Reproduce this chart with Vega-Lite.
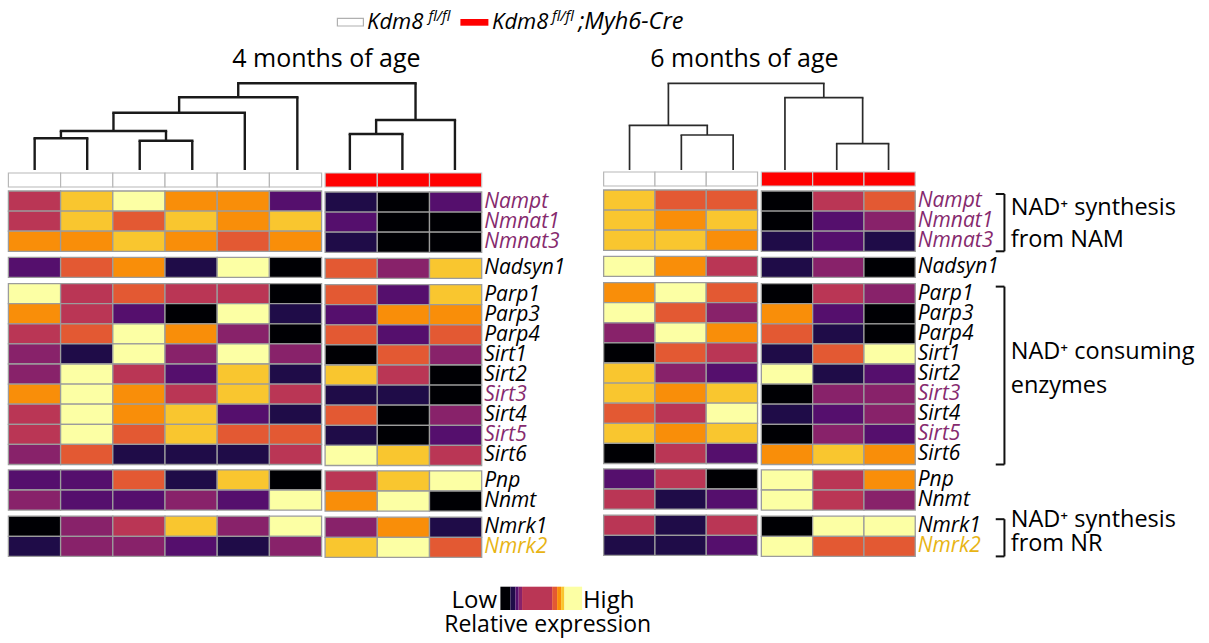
{
"$schema":"https://vega.github.io/schema/vega-lite/v6.json",
"padding":{"left":7.4,"top":0,"right":4,"bottom":0},
"config":{"view":{"stroke":null},"font":"Open Sans"},
"datasets":{
"heat":[
{"age":"4","geno":"fl","s":"L1","grp":"g1","gene":"Nampt","v":4},{"age":"4","geno":"fl","s":"L2","grp":"g1","gene":"Nampt","v":7},{"age":"4","geno":"fl","s":"L3","grp":"g1","gene":"Nampt","v":8},{"age":"4","geno":"fl","s":"L4","grp":"g1","gene":"Nampt","v":6},{"age":"4","geno":"fl","s":"L5","grp":"g1","gene":"Nampt","v":6},{"age":"4","geno":"fl","s":"L6","grp":"g1","gene":"Nampt","v":2},{"age":"4","geno":"cre","s":"L7","grp":"g1","gene":"Nampt","v":1},{"age":"4","geno":"cre","s":"L8","grp":"g1","gene":"Nampt","v":0},{"age":"4","geno":"cre","s":"L9","grp":"g1","gene":"Nampt","v":2},
{"age":"4","geno":"fl","s":"L1","grp":"g1","gene":"Nmnat1","v":4},{"age":"4","geno":"fl","s":"L2","grp":"g1","gene":"Nmnat1","v":7},{"age":"4","geno":"fl","s":"L3","grp":"g1","gene":"Nmnat1","v":5},{"age":"4","geno":"fl","s":"L4","grp":"g1","gene":"Nmnat1","v":7},{"age":"4","geno":"fl","s":"L5","grp":"g1","gene":"Nmnat1","v":6},{"age":"4","geno":"fl","s":"L6","grp":"g1","gene":"Nmnat1","v":7},{"age":"4","geno":"cre","s":"L7","grp":"g1","gene":"Nmnat1","v":2},{"age":"4","geno":"cre","s":"L8","grp":"g1","gene":"Nmnat1","v":0},{"age":"4","geno":"cre","s":"L9","grp":"g1","gene":"Nmnat1","v":0},
{"age":"4","geno":"fl","s":"L1","grp":"g1","gene":"Nmnat3","v":6},{"age":"4","geno":"fl","s":"L2","grp":"g1","gene":"Nmnat3","v":6},{"age":"4","geno":"fl","s":"L3","grp":"g1","gene":"Nmnat3","v":7},{"age":"4","geno":"fl","s":"L4","grp":"g1","gene":"Nmnat3","v":6},{"age":"4","geno":"fl","s":"L5","grp":"g1","gene":"Nmnat3","v":5},{"age":"4","geno":"fl","s":"L6","grp":"g1","gene":"Nmnat3","v":6},{"age":"4","geno":"cre","s":"L7","grp":"g1","gene":"Nmnat3","v":1},{"age":"4","geno":"cre","s":"L8","grp":"g1","gene":"Nmnat3","v":0},{"age":"4","geno":"cre","s":"L9","grp":"g1","gene":"Nmnat3","v":0},
{"age":"4","geno":"fl","s":"L1","grp":"g2","gene":"Nadsyn1","v":2},{"age":"4","geno":"fl","s":"L2","grp":"g2","gene":"Nadsyn1","v":5},{"age":"4","geno":"fl","s":"L3","grp":"g2","gene":"Nadsyn1","v":6},{"age":"4","geno":"fl","s":"L4","grp":"g2","gene":"Nadsyn1","v":1},{"age":"4","geno":"fl","s":"L5","grp":"g2","gene":"Nadsyn1","v":8},{"age":"4","geno":"fl","s":"L6","grp":"g2","gene":"Nadsyn1","v":0},{"age":"4","geno":"cre","s":"L7","grp":"g2","gene":"Nadsyn1","v":5},{"age":"4","geno":"cre","s":"L8","grp":"g2","gene":"Nadsyn1","v":3},{"age":"4","geno":"cre","s":"L9","grp":"g2","gene":"Nadsyn1","v":7},
{"age":"4","geno":"fl","s":"L1","grp":"g3","gene":"Parp1","v":8},{"age":"4","geno":"fl","s":"L2","grp":"g3","gene":"Parp1","v":4},{"age":"4","geno":"fl","s":"L3","grp":"g3","gene":"Parp1","v":5},{"age":"4","geno":"fl","s":"L4","grp":"g3","gene":"Parp1","v":4},{"age":"4","geno":"fl","s":"L5","grp":"g3","gene":"Parp1","v":4},{"age":"4","geno":"fl","s":"L6","grp":"g3","gene":"Parp1","v":0},{"age":"4","geno":"cre","s":"L7","grp":"g3","gene":"Parp1","v":5},{"age":"4","geno":"cre","s":"L8","grp":"g3","gene":"Parp1","v":2},{"age":"4","geno":"cre","s":"L9","grp":"g3","gene":"Parp1","v":7},
{"age":"4","geno":"fl","s":"L1","grp":"g3","gene":"Parp3","v":6},{"age":"4","geno":"fl","s":"L2","grp":"g3","gene":"Parp3","v":4},{"age":"4","geno":"fl","s":"L3","grp":"g3","gene":"Parp3","v":2},{"age":"4","geno":"fl","s":"L4","grp":"g3","gene":"Parp3","v":0},{"age":"4","geno":"fl","s":"L5","grp":"g3","gene":"Parp3","v":8},{"age":"4","geno":"fl","s":"L6","grp":"g3","gene":"Parp3","v":1},{"age":"4","geno":"cre","s":"L7","grp":"g3","gene":"Parp3","v":2},{"age":"4","geno":"cre","s":"L8","grp":"g3","gene":"Parp3","v":6},{"age":"4","geno":"cre","s":"L9","grp":"g3","gene":"Parp3","v":6},
{"age":"4","geno":"fl","s":"L1","grp":"g3","gene":"Parp4","v":4},{"age":"4","geno":"fl","s":"L2","grp":"g3","gene":"Parp4","v":5},{"age":"4","geno":"fl","s":"L3","grp":"g3","gene":"Parp4","v":8},{"age":"4","geno":"fl","s":"L4","grp":"g3","gene":"Parp4","v":6},{"age":"4","geno":"fl","s":"L5","grp":"g3","gene":"Parp4","v":3},{"age":"4","geno":"fl","s":"L6","grp":"g3","gene":"Parp4","v":0},{"age":"4","geno":"cre","s":"L7","grp":"g3","gene":"Parp4","v":5},{"age":"4","geno":"cre","s":"L8","grp":"g3","gene":"Parp4","v":2},{"age":"4","geno":"cre","s":"L9","grp":"g3","gene":"Parp4","v":5},
{"age":"4","geno":"fl","s":"L1","grp":"g3","gene":"Sirt1","v":3},{"age":"4","geno":"fl","s":"L2","grp":"g3","gene":"Sirt1","v":1},{"age":"4","geno":"fl","s":"L3","grp":"g3","gene":"Sirt1","v":8},{"age":"4","geno":"fl","s":"L4","grp":"g3","gene":"Sirt1","v":3},{"age":"4","geno":"fl","s":"L5","grp":"g3","gene":"Sirt1","v":8},{"age":"4","geno":"fl","s":"L6","grp":"g3","gene":"Sirt1","v":3},{"age":"4","geno":"cre","s":"L7","grp":"g3","gene":"Sirt1","v":0},{"age":"4","geno":"cre","s":"L8","grp":"g3","gene":"Sirt1","v":5},{"age":"4","geno":"cre","s":"L9","grp":"g3","gene":"Sirt1","v":3},
{"age":"4","geno":"fl","s":"L1","grp":"g3","gene":"Sirt2","v":3},{"age":"4","geno":"fl","s":"L2","grp":"g3","gene":"Sirt2","v":8},{"age":"4","geno":"fl","s":"L3","grp":"g3","gene":"Sirt2","v":4},{"age":"4","geno":"fl","s":"L4","grp":"g3","gene":"Sirt2","v":2},{"age":"4","geno":"fl","s":"L5","grp":"g3","gene":"Sirt2","v":7},{"age":"4","geno":"fl","s":"L6","grp":"g3","gene":"Sirt2","v":1},{"age":"4","geno":"cre","s":"L7","grp":"g3","gene":"Sirt2","v":7},{"age":"4","geno":"cre","s":"L8","grp":"g3","gene":"Sirt2","v":4},{"age":"4","geno":"cre","s":"L9","grp":"g3","gene":"Sirt2","v":0},
{"age":"4","geno":"fl","s":"L1","grp":"g3","gene":"Sirt3","v":6},{"age":"4","geno":"fl","s":"L2","grp":"g3","gene":"Sirt3","v":8},{"age":"4","geno":"fl","s":"L3","grp":"g3","gene":"Sirt3","v":6},{"age":"4","geno":"fl","s":"L4","grp":"g3","gene":"Sirt3","v":4},{"age":"4","geno":"fl","s":"L5","grp":"g3","gene":"Sirt3","v":7},{"age":"4","geno":"fl","s":"L6","grp":"g3","gene":"Sirt3","v":4},{"age":"4","geno":"cre","s":"L7","grp":"g3","gene":"Sirt3","v":1},{"age":"4","geno":"cre","s":"L8","grp":"g3","gene":"Sirt3","v":1},{"age":"4","geno":"cre","s":"L9","grp":"g3","gene":"Sirt3","v":0},
{"age":"4","geno":"fl","s":"L1","grp":"g3","gene":"Sirt4","v":4},{"age":"4","geno":"fl","s":"L2","grp":"g3","gene":"Sirt4","v":8},{"age":"4","geno":"fl","s":"L3","grp":"g3","gene":"Sirt4","v":6},{"age":"4","geno":"fl","s":"L4","grp":"g3","gene":"Sirt4","v":7},{"age":"4","geno":"fl","s":"L5","grp":"g3","gene":"Sirt4","v":2},{"age":"4","geno":"fl","s":"L6","grp":"g3","gene":"Sirt4","v":1},{"age":"4","geno":"cre","s":"L7","grp":"g3","gene":"Sirt4","v":5},{"age":"4","geno":"cre","s":"L8","grp":"g3","gene":"Sirt4","v":0},{"age":"4","geno":"cre","s":"L9","grp":"g3","gene":"Sirt4","v":3},
{"age":"4","geno":"fl","s":"L1","grp":"g3","gene":"Sirt5","v":4},{"age":"4","geno":"fl","s":"L2","grp":"g3","gene":"Sirt5","v":8},{"age":"4","geno":"fl","s":"L3","grp":"g3","gene":"Sirt5","v":5},{"age":"4","geno":"fl","s":"L4","grp":"g3","gene":"Sirt5","v":7},{"age":"4","geno":"fl","s":"L5","grp":"g3","gene":"Sirt5","v":5},{"age":"4","geno":"fl","s":"L6","grp":"g3","gene":"Sirt5","v":5},{"age":"4","geno":"cre","s":"L7","grp":"g3","gene":"Sirt5","v":1},{"age":"4","geno":"cre","s":"L8","grp":"g3","gene":"Sirt5","v":0},{"age":"4","geno":"cre","s":"L9","grp":"g3","gene":"Sirt5","v":2},
{"age":"4","geno":"fl","s":"L1","grp":"g3","gene":"Sirt6","v":3},{"age":"4","geno":"fl","s":"L2","grp":"g3","gene":"Sirt6","v":5},{"age":"4","geno":"fl","s":"L3","grp":"g3","gene":"Sirt6","v":1},{"age":"4","geno":"fl","s":"L4","grp":"g3","gene":"Sirt6","v":1},{"age":"4","geno":"fl","s":"L5","grp":"g3","gene":"Sirt6","v":1},{"age":"4","geno":"fl","s":"L6","grp":"g3","gene":"Sirt6","v":4},{"age":"4","geno":"cre","s":"L7","grp":"g3","gene":"Sirt6","v":8},{"age":"4","geno":"cre","s":"L8","grp":"g3","gene":"Sirt6","v":7},{"age":"4","geno":"cre","s":"L9","grp":"g3","gene":"Sirt6","v":4},
{"age":"4","geno":"fl","s":"L1","grp":"g4","gene":"Pnp","v":2},{"age":"4","geno":"fl","s":"L2","grp":"g4","gene":"Pnp","v":2},{"age":"4","geno":"fl","s":"L3","grp":"g4","gene":"Pnp","v":5},{"age":"4","geno":"fl","s":"L4","grp":"g4","gene":"Pnp","v":1},{"age":"4","geno":"fl","s":"L5","grp":"g4","gene":"Pnp","v":7},{"age":"4","geno":"fl","s":"L6","grp":"g4","gene":"Pnp","v":0},{"age":"4","geno":"cre","s":"L7","grp":"g4","gene":"Pnp","v":4},{"age":"4","geno":"cre","s":"L8","grp":"g4","gene":"Pnp","v":7},{"age":"4","geno":"cre","s":"L9","grp":"g4","gene":"Pnp","v":8},
{"age":"4","geno":"fl","s":"L1","grp":"g4","gene":"Nnmt","v":3},{"age":"4","geno":"fl","s":"L2","grp":"g4","gene":"Nnmt","v":2},{"age":"4","geno":"fl","s":"L3","grp":"g4","gene":"Nnmt","v":2},{"age":"4","geno":"fl","s":"L4","grp":"g4","gene":"Nnmt","v":3},{"age":"4","geno":"fl","s":"L5","grp":"g4","gene":"Nnmt","v":2},{"age":"4","geno":"fl","s":"L6","grp":"g4","gene":"Nnmt","v":8},{"age":"4","geno":"cre","s":"L7","grp":"g4","gene":"Nnmt","v":6},{"age":"4","geno":"cre","s":"L8","grp":"g4","gene":"Nnmt","v":8},{"age":"4","geno":"cre","s":"L9","grp":"g4","gene":"Nnmt","v":0},
{"age":"4","geno":"fl","s":"L1","grp":"g5","gene":"Nmrk1","v":0},{"age":"4","geno":"fl","s":"L2","grp":"g5","gene":"Nmrk1","v":3},{"age":"4","geno":"fl","s":"L3","grp":"g5","gene":"Nmrk1","v":4},{"age":"4","geno":"fl","s":"L4","grp":"g5","gene":"Nmrk1","v":7},{"age":"4","geno":"fl","s":"L5","grp":"g5","gene":"Nmrk1","v":3},{"age":"4","geno":"fl","s":"L6","grp":"g5","gene":"Nmrk1","v":8},{"age":"4","geno":"cre","s":"L7","grp":"g5","gene":"Nmrk1","v":3},{"age":"4","geno":"cre","s":"L8","grp":"g5","gene":"Nmrk1","v":6},{"age":"4","geno":"cre","s":"L9","grp":"g5","gene":"Nmrk1","v":1},
{"age":"4","geno":"fl","s":"L1","grp":"g5","gene":"Nmrk2","v":1},{"age":"4","geno":"fl","s":"L2","grp":"g5","gene":"Nmrk2","v":3},{"age":"4","geno":"fl","s":"L3","grp":"g5","gene":"Nmrk2","v":3},{"age":"4","geno":"fl","s":"L4","grp":"g5","gene":"Nmrk2","v":2},{"age":"4","geno":"fl","s":"L5","grp":"g5","gene":"Nmrk2","v":1},{"age":"4","geno":"fl","s":"L6","grp":"g5","gene":"Nmrk2","v":3},{"age":"4","geno":"cre","s":"L7","grp":"g5","gene":"Nmrk2","v":7},{"age":"4","geno":"cre","s":"L8","grp":"g5","gene":"Nmrk2","v":8},{"age":"4","geno":"cre","s":"L9","grp":"g5","gene":"Nmrk2","v":5},
{"age":"6","geno":"fl","s":"R1","grp":"g1","gene":"Nampt","v":7},{"age":"6","geno":"fl","s":"R2","grp":"g1","gene":"Nampt","v":5},{"age":"6","geno":"fl","s":"R3","grp":"g1","gene":"Nampt","v":5},{"age":"6","geno":"cre","s":"R4","grp":"g1","gene":"Nampt","v":0},{"age":"6","geno":"cre","s":"R5","grp":"g1","gene":"Nampt","v":4},{"age":"6","geno":"cre","s":"R6","grp":"g1","gene":"Nampt","v":5},
{"age":"6","geno":"fl","s":"R1","grp":"g1","gene":"Nmnat1","v":7},{"age":"6","geno":"fl","s":"R2","grp":"g1","gene":"Nmnat1","v":6},{"age":"6","geno":"fl","s":"R3","grp":"g1","gene":"Nmnat1","v":7},{"age":"6","geno":"cre","s":"R4","grp":"g1","gene":"Nmnat1","v":0},{"age":"6","geno":"cre","s":"R5","grp":"g1","gene":"Nmnat1","v":2},{"age":"6","geno":"cre","s":"R6","grp":"g1","gene":"Nmnat1","v":3},
{"age":"6","geno":"fl","s":"R1","grp":"g1","gene":"Nmnat3","v":7},{"age":"6","geno":"fl","s":"R2","grp":"g1","gene":"Nmnat3","v":7},{"age":"6","geno":"fl","s":"R3","grp":"g1","gene":"Nmnat3","v":6},{"age":"6","geno":"cre","s":"R4","grp":"g1","gene":"Nmnat3","v":1},{"age":"6","geno":"cre","s":"R5","grp":"g1","gene":"Nmnat3","v":2},{"age":"6","geno":"cre","s":"R6","grp":"g1","gene":"Nmnat3","v":1},
{"age":"6","geno":"fl","s":"R1","grp":"g2","gene":"Nadsyn1","v":8},{"age":"6","geno":"fl","s":"R2","grp":"g2","gene":"Nadsyn1","v":6},{"age":"6","geno":"fl","s":"R3","grp":"g2","gene":"Nadsyn1","v":4},{"age":"6","geno":"cre","s":"R4","grp":"g2","gene":"Nadsyn1","v":1},{"age":"6","geno":"cre","s":"R5","grp":"g2","gene":"Nadsyn1","v":3},{"age":"6","geno":"cre","s":"R6","grp":"g2","gene":"Nadsyn1","v":0},
{"age":"6","geno":"fl","s":"R1","grp":"g3","gene":"Parp1","v":6},{"age":"6","geno":"fl","s":"R2","grp":"g3","gene":"Parp1","v":8},{"age":"6","geno":"fl","s":"R3","grp":"g3","gene":"Parp1","v":5},{"age":"6","geno":"cre","s":"R4","grp":"g3","gene":"Parp1","v":0},{"age":"6","geno":"cre","s":"R5","grp":"g3","gene":"Parp1","v":4},{"age":"6","geno":"cre","s":"R6","grp":"g3","gene":"Parp1","v":3},
{"age":"6","geno":"fl","s":"R1","grp":"g3","gene":"Parp3","v":8},{"age":"6","geno":"fl","s":"R2","grp":"g3","gene":"Parp3","v":5},{"age":"6","geno":"fl","s":"R3","grp":"g3","gene":"Parp3","v":3},{"age":"6","geno":"cre","s":"R4","grp":"g3","gene":"Parp3","v":6},{"age":"6","geno":"cre","s":"R5","grp":"g3","gene":"Parp3","v":2},{"age":"6","geno":"cre","s":"R6","grp":"g3","gene":"Parp3","v":0},
{"age":"6","geno":"fl","s":"R1","grp":"g3","gene":"Parp4","v":3},{"age":"6","geno":"fl","s":"R2","grp":"g3","gene":"Parp4","v":8},{"age":"6","geno":"fl","s":"R3","grp":"g3","gene":"Parp4","v":6},{"age":"6","geno":"cre","s":"R4","grp":"g3","gene":"Parp4","v":5},{"age":"6","geno":"cre","s":"R5","grp":"g3","gene":"Parp4","v":1},{"age":"6","geno":"cre","s":"R6","grp":"g3","gene":"Parp4","v":0},
{"age":"6","geno":"fl","s":"R1","grp":"g3","gene":"Sirt1","v":0},{"age":"6","geno":"fl","s":"R2","grp":"g3","gene":"Sirt1","v":5},{"age":"6","geno":"fl","s":"R3","grp":"g3","gene":"Sirt1","v":4},{"age":"6","geno":"cre","s":"R4","grp":"g3","gene":"Sirt1","v":1},{"age":"6","geno":"cre","s":"R5","grp":"g3","gene":"Sirt1","v":5},{"age":"6","geno":"cre","s":"R6","grp":"g3","gene":"Sirt1","v":8},
{"age":"6","geno":"fl","s":"R1","grp":"g3","gene":"Sirt2","v":7},{"age":"6","geno":"fl","s":"R2","grp":"g3","gene":"Sirt2","v":3},{"age":"6","geno":"fl","s":"R3","grp":"g3","gene":"Sirt2","v":2},{"age":"6","geno":"cre","s":"R4","grp":"g3","gene":"Sirt2","v":8},{"age":"6","geno":"cre","s":"R5","grp":"g3","gene":"Sirt2","v":1},{"age":"6","geno":"cre","s":"R6","grp":"g3","gene":"Sirt2","v":2},
{"age":"6","geno":"fl","s":"R1","grp":"g3","gene":"Sirt3","v":7},{"age":"6","geno":"fl","s":"R2","grp":"g3","gene":"Sirt3","v":6},{"age":"6","geno":"fl","s":"R3","grp":"g3","gene":"Sirt3","v":7},{"age":"6","geno":"cre","s":"R4","grp":"g3","gene":"Sirt3","v":0},{"age":"6","geno":"cre","s":"R5","grp":"g3","gene":"Sirt3","v":3},{"age":"6","geno":"cre","s":"R6","grp":"g3","gene":"Sirt3","v":3},
{"age":"6","geno":"fl","s":"R1","grp":"g3","gene":"Sirt4","v":5},{"age":"6","geno":"fl","s":"R2","grp":"g3","gene":"Sirt4","v":4},{"age":"6","geno":"fl","s":"R3","grp":"g3","gene":"Sirt4","v":8},{"age":"6","geno":"cre","s":"R4","grp":"g3","gene":"Sirt4","v":1},{"age":"6","geno":"cre","s":"R5","grp":"g3","gene":"Sirt4","v":2},{"age":"6","geno":"cre","s":"R6","grp":"g3","gene":"Sirt4","v":3},
{"age":"6","geno":"fl","s":"R1","grp":"g3","gene":"Sirt5","v":7},{"age":"6","geno":"fl","s":"R2","grp":"g3","gene":"Sirt5","v":6},{"age":"6","geno":"fl","s":"R3","grp":"g3","gene":"Sirt5","v":7},{"age":"6","geno":"cre","s":"R4","grp":"g3","gene":"Sirt5","v":0},{"age":"6","geno":"cre","s":"R5","grp":"g3","gene":"Sirt5","v":3},{"age":"6","geno":"cre","s":"R6","grp":"g3","gene":"Sirt5","v":2},
{"age":"6","geno":"fl","s":"R1","grp":"g3","gene":"Sirt6","v":0},{"age":"6","geno":"fl","s":"R2","grp":"g3","gene":"Sirt6","v":4},{"age":"6","geno":"fl","s":"R3","grp":"g3","gene":"Sirt6","v":2},{"age":"6","geno":"cre","s":"R4","grp":"g3","gene":"Sirt6","v":6},{"age":"6","geno":"cre","s":"R5","grp":"g3","gene":"Sirt6","v":7},{"age":"6","geno":"cre","s":"R6","grp":"g3","gene":"Sirt6","v":6},
{"age":"6","geno":"fl","s":"R1","grp":"g4","gene":"Pnp","v":2},{"age":"6","geno":"fl","s":"R2","grp":"g4","gene":"Pnp","v":4},{"age":"6","geno":"fl","s":"R3","grp":"g4","gene":"Pnp","v":0},{"age":"6","geno":"cre","s":"R4","grp":"g4","gene":"Pnp","v":8},{"age":"6","geno":"cre","s":"R5","grp":"g4","gene":"Pnp","v":4},{"age":"6","geno":"cre","s":"R6","grp":"g4","gene":"Pnp","v":6},
{"age":"6","geno":"fl","s":"R1","grp":"g4","gene":"Nnmt","v":4},{"age":"6","geno":"fl","s":"R2","grp":"g4","gene":"Nnmt","v":1},{"age":"6","geno":"fl","s":"R3","grp":"g4","gene":"Nnmt","v":2},{"age":"6","geno":"cre","s":"R4","grp":"g4","gene":"Nnmt","v":8},{"age":"6","geno":"cre","s":"R5","grp":"g4","gene":"Nnmt","v":4},{"age":"6","geno":"cre","s":"R6","grp":"g4","gene":"Nnmt","v":3},
{"age":"6","geno":"fl","s":"R1","grp":"g5","gene":"Nmrk1","v":4},{"age":"6","geno":"fl","s":"R2","grp":"g5","gene":"Nmrk1","v":1},{"age":"6","geno":"fl","s":"R3","grp":"g5","gene":"Nmrk1","v":4},{"age":"6","geno":"cre","s":"R4","grp":"g5","gene":"Nmrk1","v":0},{"age":"6","geno":"cre","s":"R5","grp":"g5","gene":"Nmrk1","v":8},{"age":"6","geno":"cre","s":"R6","grp":"g5","gene":"Nmrk1","v":8},
{"age":"6","geno":"fl","s":"R1","grp":"g5","gene":"Nmrk2","v":1},{"age":"6","geno":"fl","s":"R2","grp":"g5","gene":"Nmrk2","v":1},{"age":"6","geno":"fl","s":"R3","grp":"g5","gene":"Nmrk2","v":2},{"age":"6","geno":"cre","s":"R4","grp":"g5","gene":"Nmrk2","v":8},{"age":"6","geno":"cre","s":"R5","grp":"g5","gene":"Nmrk2","v":5},{"age":"6","geno":"cre","s":"R6","grp":"g5","gene":"Nmrk2","v":5}
],
"dendL":[
{"xa":1,"ha":0,"xb":2,"hb":0,"h":31.7},
{"xa":3,"ha":0,"xb":4,"hb":0,"h":29.3},
{"xa":1.5,"ha":31.7,"xb":3.5,"hb":29.3,"h":39},
{"xa":2.5,"ha":39,"xb":5,"hb":0,"h":57.3},
{"xa":3.75,"ha":57.3,"xb":6,"hb":0,"h":72.7},
{"xa":7,"ha":0,"xb":8,"hb":0,"h":36},
{"xa":7.5,"ha":36,"xb":9,"hb":0,"h":50},
{"xa":4.875,"ha":72.7,"xb":8.25,"hb":50,"h":86.7}
],
"dendR":[
{"xa":2,"ha":0,"xb":3,"hb":0,"h":35},
{"xa":1,"ha":0,"xb":2.5,"hb":35,"h":44.7},
{"xa":5,"ha":0,"xb":6,"hb":0,"h":26.3},
{"xa":4,"ha":0,"xb":5.5,"hb":26.3,"h":72.3},
{"xa":1.75,"ha":44.7,"xb":4.75,"hb":72.3,"h":86.7}
],
"ramp":[
{"v":0,"from":0,"to":0.122},{"v":1,"from":0.122,"to":0.184},{"v":2,"from":0.184,"to":0.224},{"v":3,"from":0.224,"to":0.265},{"v":4,"from":0.265,"to":0.633},{"v":5,"from":0.633,"to":0.694},{"v":6,"from":0.694,"to":0.743},{"v":7,"from":0.743,"to":0.784},{"v":8,"from":0.784,"to":1}
],
"geno":[{"geno":"fl"},{"geno":"cre"}]
},
"spacing":7,
"vconcat":[
{
"width":700,"height":36,
"data":{"name":"geno"},
"layer":[
{"transform":[{"filter":"datum.geno=='fl'"}],"mark":{"type":"rect","stroke":"#b0b0b0","strokeWidth":1.2},"encoding":{"x":{"value":329},"x2":{"value":355},"y":{"value":18.3},"y2":{"value":26},"color":{"field":"geno","type":"nominal","scale":{"domain":["fl","cre"],"range":["#ffffff","#ff0000"]},"legend":null}}},
{"transform":[{"filter":"datum.geno=='cre'"}],"mark":{"type":"rect"},"encoding":{"x":{"value":452},"x2":{"value":480},"y":{"value":19},"y2":{"value":25.7},"color":{"field":"geno","type":"nominal","scale":{"domain":["fl","cre"],"range":["#ffffff","#ff0000"]},"legend":null}}},
{"transform":[{"filter":"datum.geno=='fl'"}],"mark":{"type":"text","text":"Kdm8","align":"left","baseline":"alphabetic","fontSize":22,"fontStyle":"italic","color":"#000"},"encoding":{"x":{"value":358.7},"y":{"value":29.3}}},
{"transform":[{"filter":"datum.geno=='fl'"}],"mark":{"type":"text","text":"fl/fl","align":"left","baseline":"alphabetic","fontSize":15,"fontStyle":"italic","color":"#000"},"encoding":{"x":{"value":420},"y":{"value":21}}},
{"transform":[{"filter":"datum.geno=='cre'"}],"mark":{"type":"text","text":"Kdm8","align":"left","baseline":"alphabetic","fontSize":22,"fontStyle":"italic","color":"#000"},"encoding":{"x":{"value":483.7},"y":{"value":29.3}}},
{"transform":[{"filter":"datum.geno=='cre'"}],"mark":{"type":"text","text":"fl/fl","align":"left","baseline":"alphabetic","fontSize":15,"fontStyle":"italic","color":"#000"},"encoding":{"x":{"value":543.5},"y":{"value":21}}},
{"transform":[{"filter":"datum.geno=='cre'"}],"mark":{"type":"text","text":";Myh6-Cre","align":"left","baseline":"alphabetic","fontSize":23.5,"fontStyle":"italic","color":"#000"},"encoding":{"x":{"value":570},"y":{"value":29.3}}}
]
},
{
"hconcat":[
{
"vconcat":[
{
"data":{"name":"dendL"},
"width":472.8,"height":127,
"layer":[
{"mark":{"type":"rule","color":"#1a1a1a","strokeWidth":2.4,"strokeCap":"butt"},"encoding":{"x":{"field":"xa","type":"quantitative","scale":{"domain":[0.5,9.5],"nice":false,"zero":false},"axis":null},"y":{"field":"ha","type":"quantitative","scale":{"domain":[0,127],"nice":false},"axis":null},"y2":{"field":"h"}}},
{"mark":{"type":"rule","color":"#1a1a1a","strokeWidth":2.4,"strokeCap":"square"},"encoding":{"x":{"field":"xa","type":"quantitative","scale":{"domain":[0.5,9.5],"nice":false,"zero":false},"axis":null},"x2":{"field":"xb"},"y":{"field":"h","type":"quantitative","scale":{"domain":[0,127],"nice":false},"axis":null}}},
{"mark":{"type":"rule","color":"#1a1a1a","strokeWidth":2.4,"strokeCap":"butt"},"encoding":{"x":{"field":"xb","type":"quantitative","scale":{"domain":[0.5,9.5],"nice":false,"zero":false},"axis":null},"y":{"field":"hb","type":"quantitative","scale":{"domain":[0,127],"nice":false},"axis":null},"y2":{"field":"h"}}},
{"transform":[{"filter":"datum.h > 86"}],"mark":{"type":"text","text":"4 months of age","align":"center","baseline":"alphabetic","fontSize":25,"color":"#000"},"encoding":{"x":{"value":318},"y":{"value":23.5}}}
]
},
{
"hconcat":[
{
"vconcat":[
{"data":{"name":"heat"},"transform":[{"filter":"datum.age=='4' && datum.geno=='fl' && datum.gene=='Nampt'"}],"width":{"step":52.2},"height":14,"mark":{"type":"rect","stroke":"#b8b8b8","strokeWidth":1.2},"encoding":{"x":{"field":"s","type":"nominal","axis":null},"color":{"field":"geno","type":"nominal","scale":{"domain":["fl","cre"],"range":["#ffffff","#ff0000"]},"legend":null}}},
{"data":{"name":"heat"},"transform":[{"filter":"datum.age=='4' && datum.geno=='fl'"}],"facet":{"row":{"field":"grp","type":"nominal","header":null}},"spacing":5.3,"bounds":"flush","resolve":{"scale":{"y":"independent"}},
"spec":{"width":{"step":52.2},"height":{"step":20.1},"mark":{"type":"rect","stroke":"#9c9c9c","strokeWidth":1.3},"encoding":{"x":{"field":"s","type":"nominal","axis":null},"y":{"field":"gene","type":"nominal","axis":null,"sort":["Nampt","Nmnat1","Nmnat3","Nadsyn1","Parp1","Parp3","Parp4","Sirt1","Sirt2","Sirt3","Sirt4","Sirt5","Sirt6","Pnp","Nnmt","Nmrk1","Nmrk2"]},"fill":{"field":"v","type":"ordinal","scale":{"domain":[0,1,2,3,4,5,6,7,8],"range":["#000004","#1f0c48","#550f6d","#88226a","#ba3655","#e35933","#f98e09","#f9c62f","#fcffa4"]},"legend":null}}}}
],"spacing":2
},
{
"vconcat":[
{"data":{"name":"heat"},"transform":[{"filter":"datum.age=='4' && datum.geno=='cre' && datum.gene=='Nampt'"}],"width":{"step":52.2},"height":14,"mark":{"type":"rect","stroke":"#c8c8c8","strokeWidth":1.2},"encoding":{"x":{"field":"s","type":"nominal","axis":null},"color":{"field":"geno","type":"nominal","scale":{"domain":["fl","cre"],"range":["#ffffff","#ff0000"]},"legend":null}}},
{"data":{"name":"heat"},"transform":[{"filter":"datum.age=='4' && datum.geno=='cre'"}],"facet":{"row":{"field":"grp","type":"nominal","header":null}},"spacing":5.3,"bounds":"flush","resolve":{"scale":{"y":"independent"}},
"spec":{"width":{"step":52.2},"height":{"step":20.1},"mark":{"type":"rect","stroke":"#9c9c9c","strokeWidth":1.3},"encoding":{"x":{"field":"s","type":"nominal","axis":null},"y":{"field":"gene","type":"nominal","sort":["Nampt","Nmnat1","Nmnat3","Nadsyn1","Parp1","Parp3","Parp4","Sirt1","Sirt2","Sirt3","Sirt4","Sirt5","Sirt6","Pnp","Nnmt","Nmrk1","Nmrk2"],"axis":{"orient":"right","title":null,"ticks":false,"domain":false,"grid":false,"labelPadding":2,"minExtent":100,"labelFont":"Open Sans","labelFontStyle":"italic","labelFontSize":21,"labelLimit":200,"labelColor":{"condition":[{"test":"indexof(['Nampt','Nmnat1','Nmnat3','Sirt3','Sirt5'], datum.value) >= 0","value":"#862a6e"},{"test":"datum.value == 'Nmrk2'","value":"#e8b414"}],"value":"#000000"}}},"fill":{"field":"v","type":"ordinal","scale":{"domain":[0,1,2,3,4,5,6,7,8],"range":["#000004","#1f0c48","#550f6d","#88226a","#ba3655","#e35933","#f98e09","#f9c62f","#fcffa4"]},"legend":null}}}}
],"spacing":2
}
],"spacing":1.7
}
],"spacing":0
},
{
"vconcat":[
{
"data":{"name":"dendR"},
"width":310.8,"height":127,
"layer":[
{"mark":{"type":"rule","color":"#2a2a2a","strokeWidth":1.7,"strokeCap":"butt"},"encoding":{"x":{"field":"xa","type":"quantitative","scale":{"domain":[0.5,6.5],"nice":false,"zero":false},"axis":null},"y":{"field":"ha","type":"quantitative","scale":{"domain":[0,127],"nice":false},"axis":null},"y2":{"field":"h"}}},
{"mark":{"type":"rule","color":"#2a2a2a","strokeWidth":1.7,"strokeCap":"square"},"encoding":{"x":{"field":"xa","type":"quantitative","scale":{"domain":[0.5,6.5],"nice":false,"zero":false},"axis":null},"x2":{"field":"xb"},"y":{"field":"h","type":"quantitative","scale":{"domain":[0,127],"nice":false},"axis":null}}},
{"mark":{"type":"rule","color":"#2a2a2a","strokeWidth":1.7,"strokeCap":"butt"},"encoding":{"x":{"field":"xb","type":"quantitative","scale":{"domain":[0.5,6.5],"nice":false,"zero":false},"axis":null},"y":{"field":"hb","type":"quantitative","scale":{"domain":[0,127],"nice":false},"axis":null},"y2":{"field":"h"}}},
{"transform":[{"filter":"datum.h > 86"}],"mark":{"type":"text","text":"6 months of age","align":"center","baseline":"alphabetic","fontSize":25,"color":"#000"},"encoding":{"x":{"value":140.8},"y":{"value":23.5}}}
]
},
{
"hconcat":[
{
"vconcat":[
{"data":{"name":"heat"},"transform":[{"filter":"datum.age=='6' && datum.geno=='fl' && datum.gene=='Nampt'"}],"width":{"step":51.3},"height":14,"mark":{"type":"rect","stroke":"#b8b8b8","strokeWidth":1.2},"encoding":{"x":{"field":"s","type":"nominal","axis":null},"color":{"field":"geno","type":"nominal","scale":{"domain":["fl","cre"],"range":["#ffffff","#ff0000"]},"legend":null}}},
{"data":{"name":"heat"},"transform":[{"filter":"datum.age=='6' && datum.geno=='fl'"}],"facet":{"row":{"field":"grp","type":"nominal","header":null}},"spacing":5.3,"bounds":"flush","resolve":{"scale":{"y":"independent"}},
"spec":{"width":{"step":51.3},"height":{"step":20.1},"mark":{"type":"rect","stroke":"#9c9c9c","strokeWidth":1.3},"encoding":{"x":{"field":"s","type":"nominal","axis":null},"y":{"field":"gene","type":"nominal","axis":null,"sort":["Nampt","Nmnat1","Nmnat3","Nadsyn1","Parp1","Parp3","Parp4","Sirt1","Sirt2","Sirt3","Sirt4","Sirt5","Sirt6","Pnp","Nnmt","Nmrk1","Nmrk2"]},"fill":{"field":"v","type":"ordinal","scale":{"domain":[0,1,2,3,4,5,6,7,8],"range":["#000004","#1f0c48","#550f6d","#88226a","#ba3655","#e35933","#f98e09","#f9c62f","#fcffa4"]},"legend":null}}}}
],"spacing":2
},
{
"vconcat":[
{"data":{"name":"heat"},"transform":[{"filter":"datum.age=='6' && datum.geno=='cre' && datum.gene=='Nampt'"}],"width":{"step":51.3},"height":14,"mark":{"type":"rect","stroke":"#c8c8c8","strokeWidth":1.2},"encoding":{"x":{"field":"s","type":"nominal","axis":null},"color":{"field":"geno","type":"nominal","scale":{"domain":["fl","cre"],"range":["#ffffff","#ff0000"]},"legend":null}}},
{"data":{"name":"heat"},"transform":[{"filter":"datum.age=='6' && datum.geno=='cre'"}],"facet":{"row":{"field":"grp","type":"nominal","header":null}},"spacing":5.3,"bounds":"flush","resolve":{"scale":{"y":"independent"}},
"spec":{"width":{"step":51.3},"height":{"step":20.1},
"layer":[
{"mark":{"type":"rect","stroke":"#9c9c9c","strokeWidth":1.3},"encoding":{"x":{"field":"s","type":"nominal","axis":null},"y":{"field":"gene","type":"nominal","sort":["Nampt","Nmnat1","Nmnat3","Nadsyn1","Parp1","Parp3","Parp4","Sirt1","Sirt2","Sirt3","Sirt4","Sirt5","Sirt6","Pnp","Nnmt","Nmrk1","Nmrk2"],"axis":{"orient":"right","title":null,"ticks":false,"domain":false,"grid":false,"labelPadding":2,"labelFont":"Open Sans","labelFontStyle":"italic","labelFontSize":21,"labelLimit":200,"labelColor":{"condition":[{"test":"indexof(['Nampt','Nmnat1','Nmnat3','Sirt3','Sirt5'], datum.value) >= 0","value":"#862a6e"},{"test":"datum.value == 'Nmrk2'","value":"#e8b414"}],"value":"#000000"}}},"fill":{"field":"v","type":"ordinal","scale":{"domain":[0,1,2,3,4,5,6,7,8],"range":["#000004","#1f0c48","#550f6d","#88226a","#ba3655","#e35933","#f98e09","#f9c62f","#fcffa4"]},"legend":null}}},
{"transform":[{"filter":"datum.s=='R4' && (datum.gene=='Nampt' || datum.gene=='Parp1' || datum.gene=='Nmrk1')"}],"mark":{"type":"rule","color":"#111111","strokeWidth":2},"encoding":{"x":{"value":243.1},"y":{"value":3},"y2":{"value":"height"}}},
{"transform":[{"filter":"datum.s=='R4' && (datum.gene=='Nampt' || datum.gene=='Parp1' || datum.gene=='Nmrk1')"}],"mark":{"type":"rule","color":"#111111","strokeWidth":2},"encoding":{"x":{"value":234.4},"x2":{"value":243.1},"y":{"value":3}}},
{"transform":[{"filter":"datum.s=='R4' && (datum.gene=='Nampt' || datum.gene=='Parp1' || datum.gene=='Nmrk1')"}],"mark":{"type":"rule","color":"#111111","strokeWidth":2},"encoding":{"x":{"value":234.4},"x2":{"value":243.1},"y":{"value":"height"}}},
{"transform":[{"filter":"datum.s=='R4' && datum.gene=='Nampt'"}],"mark":{"type":"text","text":"NAD⁺ synthesis","align":"left","baseline":"alphabetic","dy":14.3,"fontSize":23.5,"color":"#000"},"encoding":{"x":{"value":249.4},"y":{"field":"gene","type":"nominal","sort":["Nampt","Nmnat1","Nmnat3","Nadsyn1","Parp1","Parp3","Parp4","Sirt1","Sirt2","Sirt3","Sirt4","Sirt5","Sirt6","Pnp","Nnmt","Nmrk1","Nmrk2"]}}},
{"transform":[{"filter":"datum.s=='R4' && datum.gene=='Nmnat3'"}],"mark":{"type":"text","text":"from NAM","align":"left","baseline":"alphabetic","dy":5.8,"fontSize":23.5,"color":"#000"},"encoding":{"x":{"value":249.4},"y":{"field":"gene","type":"nominal","sort":["Nampt","Nmnat1","Nmnat3","Nadsyn1","Parp1","Parp3","Parp4","Sirt1","Sirt2","Sirt3","Sirt4","Sirt5","Sirt6","Pnp","Nnmt","Nmrk1","Nmrk2"]}}},
{"transform":[{"filter":"datum.s=='R4' && datum.gene=='Sirt1'"}],"mark":{"type":"text","text":"NAD⁺ consuming","align":"left","baseline":"alphabetic","dy":5,"fontSize":23.5,"color":"#000"},"encoding":{"x":{"value":249.4},"y":{"field":"gene","type":"nominal","sort":["Nampt","Nmnat1","Nmnat3","Nadsyn1","Parp1","Parp3","Parp4","Sirt1","Sirt2","Sirt3","Sirt4","Sirt5","Sirt6","Pnp","Nnmt","Nmrk1","Nmrk2"]}}},
{"transform":[{"filter":"datum.s=='R4' && datum.gene=='Sirt3'"}],"mark":{"type":"text","text":"enzymes","align":"left","baseline":"alphabetic","dy":-1,"fontSize":23.5,"color":"#000"},"encoding":{"x":{"value":249.4},"y":{"field":"gene","type":"nominal","sort":["Nampt","Nmnat1","Nmnat3","Nadsyn1","Parp1","Parp3","Parp4","Sirt1","Sirt2","Sirt3","Sirt4","Sirt5","Sirt6","Pnp","Nnmt","Nmrk1","Nmrk2"]}}},
{"transform":[{"filter":"datum.s=='R4' && datum.gene=='Nmrk1'"}],"mark":{"type":"text","text":"NAD⁺ synthesis","align":"left","baseline":"alphabetic","dy":1.2,"fontSize":23.5,"color":"#000"},"encoding":{"x":{"value":249.4},"y":{"field":"gene","type":"nominal","sort":["Nampt","Nmnat1","Nmnat3","Nadsyn1","Parp1","Parp3","Parp4","Sirt1","Sirt2","Sirt3","Sirt4","Sirt5","Sirt6","Pnp","Nnmt","Nmrk1","Nmrk2"]}}},
{"transform":[{"filter":"datum.s=='R4' && datum.gene=='Nmrk2'"}],"mark":{"type":"text","text":"from NR","align":"left","baseline":"alphabetic","dy":5,"fontSize":23.5,"color":"#000"},"encoding":{"x":{"value":249.4},"y":{"field":"gene","type":"nominal","sort":["Nampt","Nmnat1","Nmnat3","Nadsyn1","Parp1","Parp3","Parp4","Sirt1","Sirt2","Sirt3","Sirt4","Sirt5","Sirt6","Pnp","Nnmt","Nmrk1","Nmrk2"]}}}
]}}
],"spacing":2
}
],"spacing":1.7
}
],"spacing":0
}
],"spacing":20.25
},
{
"data":{"name":"ramp"},
"width":700,"height":76,
"layer":[
{"mark":{"type":"rect"},"encoding":{"x":{"field":"from","type":"quantitative","scale":{"domain":[0,1],"range":[492,573.7],"nice":false,"zero":false},"axis":null},"x2":{"field":"to"},"y":{"value":20.7},"y2":{"value":44},"fill":{"field":"v","type":"ordinal","scale":{"domain":[0,1,2,3,4,5,6,7,8],"range":["#000004","#1f0c48","#550f6d","#88226a","#ba3655","#e35933","#f98e09","#f9c62f","#fcffa4"]},"legend":null}}},
{"transform":[{"filter":"datum.v==0"}],"mark":{"type":"text","text":"Low","align":"right","baseline":"alphabetic","fontSize":24,"color":"#000"},"encoding":{"x":{"value":488.7},"y":{"value":42}}},
{"transform":[{"filter":"datum.v==8"}],"mark":{"type":"text","text":"High","align":"left","baseline":"alphabetic","fontSize":24,"color":"#000"},"encoding":{"x":{"value":574.5},"y":{"value":42}}},
{"transform":[{"filter":"datum.v==4"}],"mark":{"type":"text","text":"Relative expression","align":"center","baseline":"alphabetic","fontSize":23,"color":"#000"},"encoding":{"x":{"value":539.3},"y":{"value":65.7}}}
]
}
]
}
